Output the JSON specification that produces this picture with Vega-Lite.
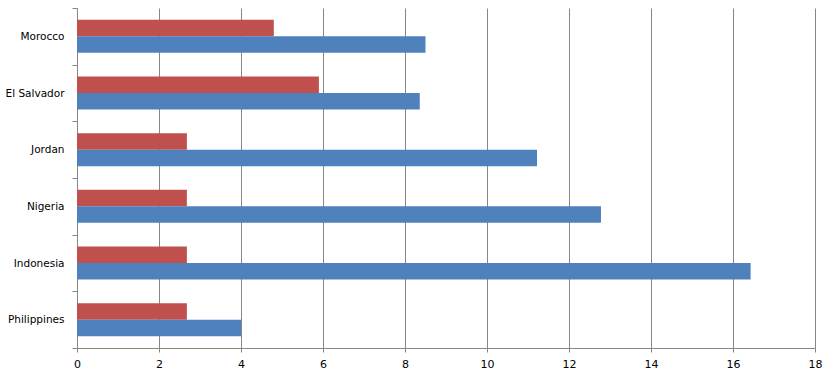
{
  "$schema": "https://vega.github.io/schema/vega-lite/v6.json",
  "width": 738,
  "height": 340,
  "autosize": {"type": "none"},
  "padding": {"left": 77, "top": 8, "right": 14, "bottom": 28},
  "background": "white",
  "data": {
    "values": [
      {"country": "Morocco", "series": "Series2", "value": 4.8},
      {"country": "Morocco", "series": "Series1", "value": 8.5},
      {"country": "El Salvador", "series": "Series2", "value": 5.9},
      {"country": "El Salvador", "series": "Series1", "value": 8.36},
      {"country": "Jordan", "series": "Series2", "value": 2.68},
      {"country": "Jordan", "series": "Series1", "value": 11.22},
      {"country": "Nigeria", "series": "Series2", "value": 2.68},
      {"country": "Nigeria", "series": "Series1", "value": 12.78},
      {"country": "Indonesia", "series": "Series2", "value": 2.68},
      {"country": "Indonesia", "series": "Series1", "value": 16.43},
      {"country": "Philippines", "series": "Series2", "value": 2.68},
      {"country": "Philippines", "series": "Series1", "value": 4.0}
    ]
  },
  "mark": {"type": "bar", "cornerRadius": 0},
  "encoding": {
    "y": {
      "field": "country",
      "type": "nominal",
      "sort": ["Morocco", "El Salvador", "Jordan", "Nigeria", "Indonesia", "Philippines"],
      "scale": {"paddingInner": 0, "paddingOuter": 0},
      "axis": {
        "title": null,
        "tickBand": "extent",
        "domainColor": "#868686",
        "tickColor": "#868686",
        "tickSize": 5,
        "labelPadding": 8,
        "labelFont": "DejaVu Sans",
        "labelFontSize": 10.5,
        "labelColor": "#000000",
        "grid": false
      }
    },
    "yOffset": {
      "field": "series",
      "type": "nominal",
      "sort": ["Series2", "Series1"],
      "scale": {"paddingInner": 0, "paddingOuter": 0.72}
    },
    "x": {
      "field": "value",
      "type": "quantitative",
      "scale": {"domain": [0, 18], "nice": false},
      "axis": {
        "title": null,
        "values": [0, 2, 4, 6, 8, 10, 12, 14, 16, 18],
        "grid": true,
        "gridColor": "#868686",
        "gridOpacity": 1,
        "domainColor": "#868686",
        "tickColor": "#868686",
        "tickSize": 4,
        "labelPadding": 6,
        "labelFlush": false,
        "labelFont": "DejaVu Sans",
        "labelFontSize": 11,
        "labelColor": "#000000"
      }
    },
    "color": {
      "field": "series",
      "type": "nominal",
      "scale": {"domain": ["Series1", "Series2"], "range": ["#4F81BD", "#C0504D"]},
      "legend": null
    }
  },
  "config": {
    "view": {"stroke": null}
  }
}
